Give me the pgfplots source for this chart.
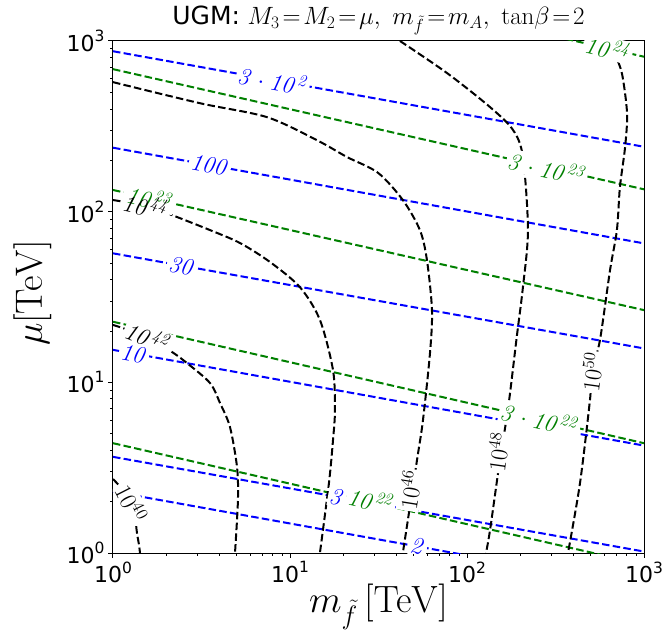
\RequirePackage{fix-cm}
\documentclass[border=0pt]{standalone}
\usepackage[no-math]{fontspec}
\usepackage{pgfplots}
\pgfplotsset{compat=1.18}
\newfontfamily\dejavu{DejaVu Sans}
\definecolor{mplgreen}{RGB}{0,128,0}
\newcommand\tk[1]{{\dejavu\fontsize{22}{26}\selectfont 10\raisebox{0.45em}{\fontsize{15.5}{16}\selectfont #1}}}
\newcommand\lfont{\fontsize{24}{24}\selectfont}
\newcommand\LB[5]{\node[rotate=#3, fill=white, inner sep=1.5pt] at (axis cs:#1,#2) {\lfont\phantom{#5}};}
\newcommand\LT[5]{\node[rotate=#3, text=#4, inner sep=1.5pt] at (axis cs:#1,#2) {\lfont #5};}
\newcommand\alllabels[1]{%
 #1{8.02}{590}{-10}{blue}{$\mathit{3\cdot 10^{2}}$}%
 #1{3.53}{187.5}{-10}{blue}{$\mathit{100}$}%
 #1{2.455}{48.2}{-10}{blue}{$\mathit{30}$}%
 #1{1.315}{14.7}{-10}{blue}{$\mathit{10}$}%
 #1{18.45}{2.12}{-10}{blue}{$\mathit{3}$}%
 #1{52.8}{1.09}{-10}{blue}{$\mathit{2}$}%
 #1{627}{904}{-13}{mplgreen}{$\mathit{10^{24}}$}%
 #1{283}{179.5}{-13}{mplgreen}{$\mathit{3\cdot 10^{23}}$}%
 #1{1.618}{119.4}{-13}{mplgreen}{$\mathit{10^{23}}$}%
 #1{258}{6.07}{-13}{mplgreen}{$\mathit{3\cdot 10^{22}}$}%
 #1{28.7}{2.04}{-13}{mplgreen}{$\mathit{10^{22}}$}%
 #1{1.27}{1.96}{-63}{black}{$10^{40}$}%
 #1{1.577}{18.4}{-22}{black}{$\mathit{10^{42}}$}%
 #1{1.535}{108}{-12}{black}{$\mathit{10^{44}}$}%
 #1{47.6}{2.34}{81}{black}{$10^{46}$}%
 #1{149.6}{3.91}{82}{black}{$10^{48}$}%
 #1{508}{11.5}{82}{black}{$10^{50}$}%
}
\pgfplotsset{
 bl/.style={blue, line width=2pt, dash pattern=on 7.5pt off 3.3pt, mark=none},
 gr/.style={mplgreen, line width=2pt, dash pattern=on 7.5pt off 3.3pt, mark=none},
 bk/.style={black, line width=2pt, dash pattern=on 7.5pt off 3.3pt, mark=none, smooth},
}
\begin{document}
\begin{tikzpicture}
\begin{axis}[
 xmode=log, ymode=log,
 scale only axis, width=531pt, height=512pt,
 xmin=1, xmax=1000, ymin=1, ymax=1000,
 xtick={1,10,100,1000}, ytick={1,10,100,1000},
 xticklabels={\tk{0},\tk{1},\tk{2},\tk{3}},
 yticklabels={\tk{0},\tk{1},\tk{2},\tk{3}},
 minor xtick={2,3,4,5,6,7,8,9,20,30,40,50,60,70,80,90,200,300,400,500,600,700,800,900},
 minor ytick={2,3,4,5,6,7,8,9,20,30,40,50,60,70,80,90,200,300,400,500,600,700,800,900},
 tick align=outside, tick pos=left,
 major tick length=5pt, minor tick length=3pt,
 every major tick/.append style={black, line width=1pt},
 every minor tick/.append style={black, line width=0.8pt},
 axis line style={line width=1pt},
 title={{\dejavu UGM:} $M_3\!=\!M_2\!=\!\mu,\ m_{\tilde f}\!=\!m_A,\ \tan\!\beta\!=\!2$},
 title style={font=\fontsize{25}{26}\selectfont, anchor=base, at={(axis description cs:0.5,1)}, yshift=10.6pt},
 xlabel={$m_{\tilde f}\,[\mathrm{TeV}]$},
 ylabel={$\mu[\mathrm{TeV}]$},
 xlabel style={font=\fontsize{38}{38}\selectfont, anchor=base, at={(axis description cs:0.5,-0.117)}},
 ylabel style={font=\fontsize{38}{38}\selectfont, anchor=base, at={(axis description cs:-0.134,0.508)}},
]
% blue lines
\addplot[bl] coordinates {(1,871) (1000,240)};
\addplot[bl] coordinates {(1,237) (1000,65.2)};
\addplot[bl] coordinates {(1,57.0) (1000,15.8)};
\addplot[bl] coordinates {(1,15.5) (1000,4.26)};
\addplot[bl] coordinates {(1,3.66) (1000,1.02)};
\addplot[bl] coordinates {(1,2.29) (1000,0.63)};
% green lines
\addplot[gr] coordinates {(1,4159) (1000,809)};
\addplot[gr] coordinates {(1,684) (1000,135.2)};
\addplot[gr] coordinates {(1,134) (1000,26.5)};
\addplot[gr] coordinates {(1,22.65) (1000,4.40)};
\addplot[gr] coordinates {(1,4.40) (1000,0.855)};
% black contours
\addplot[bk] coordinates {(1,2.714) (1.139,2.339) (1.264,1.963) (1.331,1.626) (1.366,1.310) (1.403,1.114) (1.421,1.0)};
\addplot[bk] coordinates {(1,21.7) (1.577,18.4) (2.153,15.07) (2.618,12.97) (3.532,9.91) (4.027,7.55) (4.581,5.47) (5.02,3.19) (5.08,2.04) (4.89,1.0)};
\addplot[bk] coordinates {(1,117) (1.535,108) (2.153,95.5) (3.532,78.0) (5.22,65.5) (7.71,50.7) (11.38,36.1) (14.76,23.2) (17.5,11.8) (17.95,6.89) (17.5,4.59) (16.6,2.57) (14.76,1.0)};
\addplot[bk] coordinates {(1,574) (3.10,432) (7.41,358) (14.22,262) (20.99,209) (31.4,169) (43.4,117) (54.2,78.0) (59.4,52.0) (63.4,26.5) (61.8,14.86) (56.4,6.01) (52.2,3.51) (43.4,1.0)};
\addplot[bk] coordinates {(41.8,1000) (77.1,649) (134.9,410) (182,301) (207,209) (221,78.0) (207,36.1) (191,18.4) (171,7.16) (153.5,3.51) (134.9,1.36) (128,1.0)};
\addplot[bk] coordinates {(668,1000) (690,830) (752,640) (802,378) (782,239) (731,139) (703,78) (643,45.5) (564,17.7) (508,11.5) (495,7.87) (435,2.57) (372,1.0)};
\alllabels\LB
\alllabels\LT
\end{axis}
\pgfresetboundingbox
\path[use as bounding box] ([shift={(-113pt,-79pt)}]current axis.south west) rectangle ([shift={(19pt,41pt)}]current axis.north east);
\end{tikzpicture}
\end{document}
